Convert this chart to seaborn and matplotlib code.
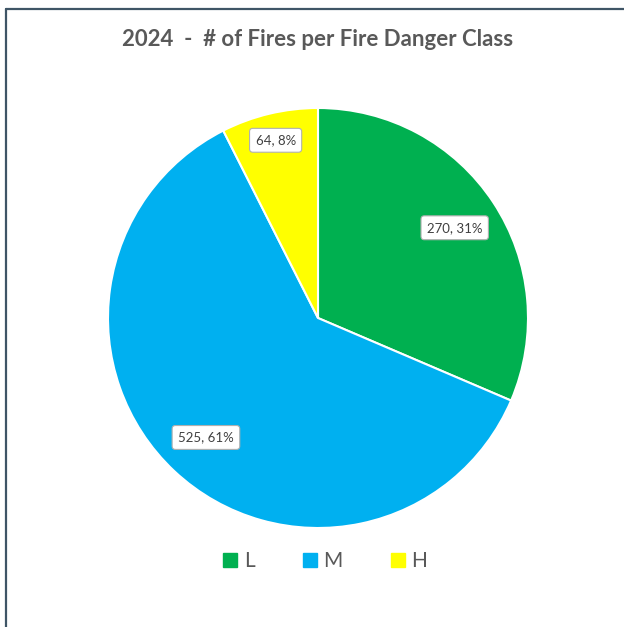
import numpy as np
import matplotlib
matplotlib.use("Agg")
import matplotlib.pyplot as plt
import seaborn as sns
from matplotlib.lines import Line2D

categories = ["L", "M", "H"]
counts = [270, 525, 64]
percents = ["31%", "61%", "8%"]
colors = ["#00B050", "#00B0F0", "#FFFF00"]
title = "2024  -  # of Fires per Fire Danger Class"

sns.set_theme(style="white")
plt.rcParams['font.family'] = ['Lato', 'DejaVu Sans']

fig = plt.figure(figsize=(6.24, 6.27), dpi=100)
fig.patch.set_facecolor("white")

# frame lines (top and left border of the chart area)
fig.add_artist(Line2D([6/624, 6/624], [0, 1 - 9/627], color="#3f5566", lw=1.6))
fig.add_artist(Line2D([6/624, 1], [1 - 9/627, 1 - 9/627], color="#3f5566", lw=1.6))

ax = fig.add_axes([(318 - 210) / 624, 1 - (318 + 210) / 627, 420 / 624, 420 / 627])
wedges, _ = ax.pie(counts, colors=colors, startangle=90, counterclock=False,
                   wedgeprops=dict(edgecolor="white", linewidth=1.5))
ax.set_xlim(-1, 1)
ax.set_ylim(-1, 1)
ax.set_aspect("equal")
ax.axis("off")

dists = [0.78, 0.78, 0.87]
for w, c, p, d in zip(wedges, counts, percents, dists):
    ang = np.deg2rad((w.theta1 + w.theta2) / 2)
    ax.text(d * np.cos(ang), d * np.sin(ang), f"{c}, {p}", ha="center", va="center",
            fontsize=9.5, color="#404040",
            bbox=dict(boxstyle="round,pad=0.45,rounding_size=0.25", fc="white",
                      ec="#b0b0b0", lw=0.8))

fig.text(318 / 624, 1 - 40 / 627, title, ha="center", va="center", fontsize=16,
         fontweight="bold", color="#595959")

handles = [Line2D([], [], marker="s", linestyle="none", markersize=9.5,
                  markerfacecolor=col, markeredgecolor=col) for col in colors]
fig.legend(handles, categories, loc="center", bbox_to_anchor=(325 / 624, 1 - 561 / 627),
           ncol=3, frameon=False, fontsize=15, labelcolor="#595959",
           handletextpad=0.3, columnspacing=2.3, handlelength=0.7)

fig.savefig("out.png", dpi=100, facecolor="white")
